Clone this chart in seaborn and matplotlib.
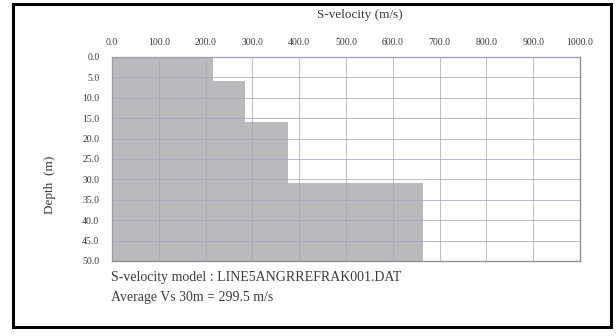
import numpy as np
import pandas as pd
import matplotlib
matplotlib.use("Agg")
import matplotlib.pyplot as plt
from matplotlib.patches import Rectangle
import seaborn as sns

# ---- data ----
layer_top = [0.0, 6.0, 16.0, 31.0]
layer_bottom = [6.0, 16.0, 31.0, 50.0]
velocity = [216.0, 285.0, 377.0, 664.0]
x_ticks = [0, 100, 200, 300, 400, 500, 600, 700, 800, 900, 1000]
y_ticks = [0, 5, 10, 15, 20, 25, 30, 35, 40, 45, 50]
title = "S-velocity (m/s)"
ylabel = "Depth  (m)"
model_text = "S-velocity model : LINE5ANGRREFRAK001.DAT"
avg_text = "Average Vs 30m = 299.5 m/s"

sns.set_style("white")
plt.rcParams['font.family'] = ['Liberation Serif', 'DejaVu Serif']

df = pd.DataFrame({
    "mid": [(t + b) / 2 for t, b in zip(layer_top, layer_bottom)],
    "vs": velocity,
})
edges = layer_top + [layer_bottom[-1]]

fig = plt.figure(figsize=(6.16, 3.36), dpi=100)
ax = fig.add_axes([112/616, 1 - 261/336, (580 - 112)/616, (261 - 57)/336])

sns.histplot(data=df, y="mid", weights="vs", bins=edges, ax=ax,
             color="#bababe", alpha=1.0, linewidth=0, edgecolor="none")

ax.set_xlim(0, 1000)
ax.set_ylim(50, 0)
ax.set_xticks(x_ticks)
ax.set_yticks(y_ticks)
ax.set_xticklabels([f"{v:.1f}" for v in x_ticks], fontsize=7, color="#3a3a3a")
ax.set_yticklabels([f"{v:.1f}" for v in y_ticks], fontsize=7, color="#3a3a3a")
ax.xaxis.tick_top()
ax.tick_params(axis="both", length=0)
ax.tick_params(axis="x", pad=7)
ax.tick_params(axis="y", pad=9)
ax.set_xlabel("")
ax.set_ylabel("")
ax.grid(True, color="#a4a4c0", linewidth=0.7, alpha=0.75)
ax.set_axisbelow(False)
for s in ax.spines.values():
    s.set_color("#8a8a8a")
    s.set_linewidth(0.9)

fig.text(360/616, 1 - 15/336, title, ha="center", va="center", fontsize=9.5, color="#3a3a3a")
fig.text(50/616, 1 - 185/336, ylabel, ha="center", va="center", rotation=90,
         fontsize=9.5, color="#3a3a3a")
fig.text(111/616, 1 - 277/336, model_text, ha="left", va="center", fontsize=10, color="#3a3a3a")
fig.text(111/616, 1 - 298/336, avg_text, ha="left", va="center", fontsize=10, color="#3a3a3a")

fig.patches.append(Rectangle((13/616, 1 - 327/336), 598/616, 323/336,
                             transform=fig.transFigure, fill=False,
                             edgecolor="black", linewidth=2.2))

fig.savefig("out.png", dpi=100)
